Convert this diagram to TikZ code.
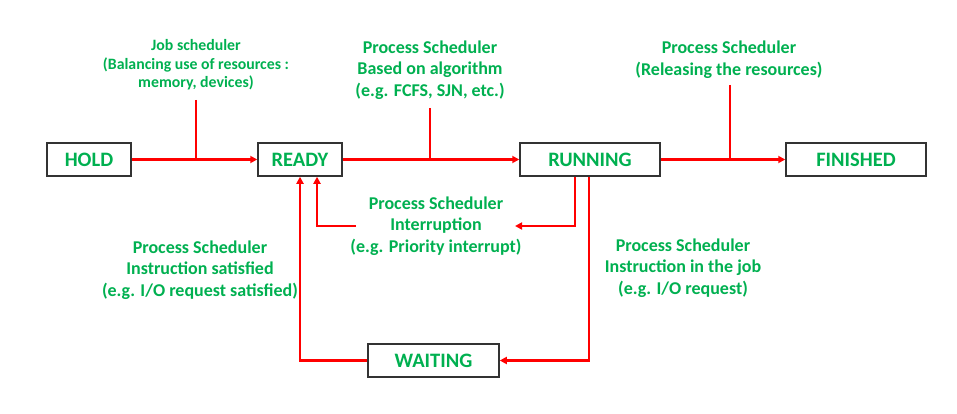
\documentclass[tikz,border=0pt]{standalone}
\usepackage{fontspec}
\setmainfont{Carlito}
\usetikzlibrary{arrows.meta}
\definecolor{labgreen}{RGB}{0,176,80}
\definecolor{flowred}{RGB}{255,0,0}

\begin{document}
\begin{tikzpicture}[x=1pt,y=-1pt,
  state/.style={draw=black!80,line width=1.5pt,minimum height=33pt,inner sep=0pt,
    font=\fontsize{20.5}{22}\selectfont\bfseries,text=labgreen},
  flow/.style={draw=flowred,line width=2.6pt,-{Triangle[length=7pt,width=7pt]}},
  tick/.style={draw=flowred,line width=1.3pt},
  note/.style={align=center,inner sep=0pt,text=labgreen,
    font=\fontsize{18}{21.5}\selectfont\bfseries},
  smallnote/.style={note,font=\fontsize{15.8}{18.5}\selectfont\bfseries}]
\useasboundingbox (0,0) rectangle (957,414);

% states
\node[state,minimum width=84pt] (hold) at (89,159.5) {HOLD};
\node[state,minimum width=84pt] (ready) at (300,159.5) {READY};
\node[state,minimum width=140pt] (running) at (590,159.5) {RUNNING};
\node[state,minimum width=140pt] (finished) at (856,159.5) {FINISHED};
\node[state,minimum width=131pt] (waiting) at (433.5,360.5) {WAITING};

% labels
\node[smallnote] (jobsched) at (196,65) {Job scheduler\\(Balancing use of resources :\\memory, devices)};
\node[note] (algo) at (430,70) {Process Scheduler\\Based on algorithm\\(e.g. FCFS, SJN, etc.)};
\node[note] (release) at (729,59.5) {Process Scheduler\\(Releasing the resources)};
\node[note] (interrupt) at (436,226) {Process Scheduler\\Interruption\\(e.g. Priority interrupt)};
\node[note] (satisfied) at (200,270) {Process Scheduler\\Instruction satisfied\\(e.g. I/O request satisfied)};
\node[note] (injob) at (683,268) {Process Scheduler\\Instruction in the job\\(e.g. I/O request)};

% transitions
\coordinate (t1) at (196,100);
\coordinate (t2) at (430,108);
\coordinate (t3) at (730,85);
\draw[flow] (hold) -- (ready);
\draw[tick] (t1) -- (t1 |- hold.east);
\draw[flow] (ready) -- (running);
\draw[tick] (t2) -- (t2 |- ready.east);
\draw[flow] (running) -- (finished);
\draw[tick] (t3) -- (t3 |- running.east);

\coordinate (ia) at (515,226);
\coordinate (ib) at (356,226);
\draw[flow] ([xshift=-15pt]running.south) |- (ia);
\draw[flow] (ib) -| ([xshift=17pt]ready.south);
\draw[flow] ([xshift=-1pt]running.south) |- (waiting.east);
\draw[flow] (waiting.west) -| (ready.south);
\end{tikzpicture}
\end{document}
